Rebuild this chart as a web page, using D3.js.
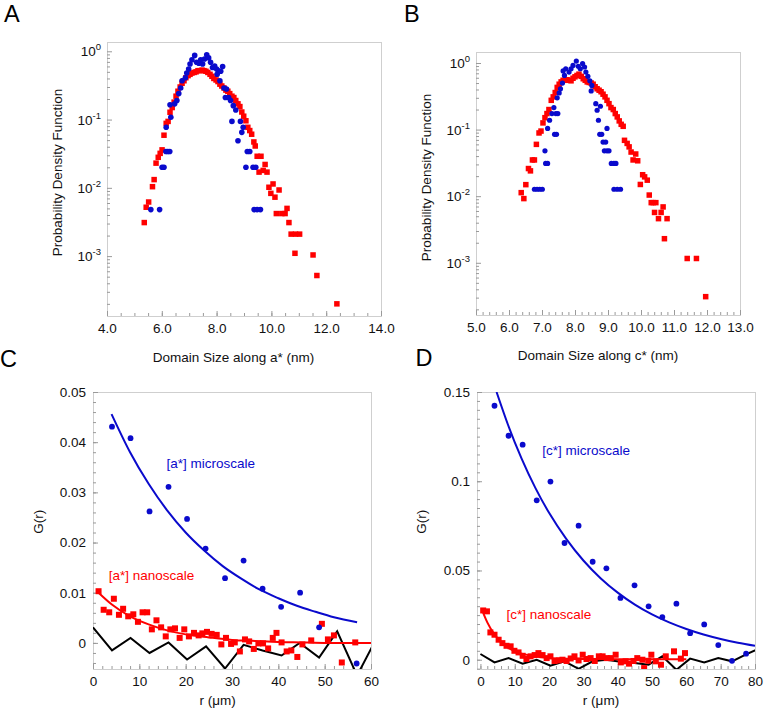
<!DOCTYPE html>
<html><head><meta charset="utf-8">
<script src="https://cdn.jsdelivr.net/npm/d3@7"></script>
<style>body{margin:0;background:#fff}svg{display:block}text{font-family:"Liberation Sans",Arial,sans-serif}</style>
</head><body><svg id="c" width="764" height="711"></svg>
<script>
// ---------- Panel A data (domain size along a*, nm ; PDF) ----------
const aRed = [[5.36,0.0031],[5.43,0.0052],[5.52,0.0062],[5.66,0.0104],[5.72,0.0132],[5.79,0.023],[5.87,0.028],[5.94,0.032],[6.01,0.036],[6.08,0.059],[6.16,0.088],[6.23,0.094],[6.30,0.128],[6.38,0.15],[6.45,0.18],[6.52,0.22],[6.59,0.26],[6.67,0.30],[6.74,0.34],[6.81,0.37],[6.88,0.41],[6.96,0.44],[7.03,0.46],[7.10,0.48],[7.18,0.49],[7.25,0.50],[7.32,0.52],[7.39,0.52],[7.47,0.53],[7.54,0.52],[7.61,0.51],[7.68,0.49],[7.76,0.46],[7.83,0.43],[7.90,0.40],[7.98,0.38],[8.05,0.36],[8.12,0.33],[8.19,0.31],[8.27,0.29],[8.34,0.27],[8.41,0.26],[8.48,0.24],[8.56,0.22],[8.63,0.21],[8.70,0.19],[8.78,0.17],[8.85,0.155],[8.92,0.129],[8.99,0.112],[9.07,0.096],[9.14,0.077],[9.21,0.069],[9.28,0.061],[9.36,0.047],[9.41,0.041],[9.48,0.029],[9.55,0.017],[9.62,0.029],[9.70,0.018],[9.77,0.022],[9.84,0.017],[9.91,0.0102],[9.98,0.0083],[10.06,0.0114],[10.13,0.0073],[10.18,0.0042],[10.28,0.0093],[10.38,0.0042],[10.50,0.0042],[10.57,0.0050],[10.64,0.0031],[10.72,0.0021],[10.86,0.0011],[10.88,0.0021],[11.03,0.0021],[11.52,0.00104],[11.66,0.00052],[12.39,0.0002]];
const aBlue = [[5.60,0.0048],[5.92,0.0048],[6.01,0.020],[6.08,0.020],[6.15,0.034],[6.22,0.034],[6.29,0.034],[6.16,0.077],[6.33,0.108],[6.30,0.165],[6.47,0.17],[6.55,0.19],[6.62,0.24],[6.69,0.29],[6.74,0.37],[6.86,0.41],[6.91,0.48],[6.98,0.55],[7.03,0.65],[7.10,0.75],[7.20,0.87],[7.27,0.69],[7.35,0.67],[7.42,0.75],[7.49,0.65],[7.56,0.77],[7.64,0.89],[7.71,0.80],[7.78,0.69],[7.85,0.58],[7.93,0.61],[8.00,0.55],[8.07,0.52],[8.15,0.51],[8.22,0.60],[8.02,0.46],[8.12,0.37],[8.27,0.29],[8.36,0.28],[8.32,0.21],[8.44,0.21],[8.51,0.19],[8.61,0.16],[8.70,0.138],[8.56,0.094],[8.87,0.094],[8.97,0.077],[8.92,0.065],[8.78,0.049],[9.12,0.034],[9.21,0.034],[9.07,0.020],[9.33,0.020],[9.43,0.020],[9.37,0.0048],[9.48,0.0048],[9.60,0.0048]];
const aXTicks = [4,6,8,10,12,14];
const aYExps = [0,-1,-2,-3];

// ---------- Panel B data (domain size along c*, nm ; PDF) ----------
const bRed = [[6.37,0.0113],[6.45,0.0092],[6.51,0.0149],[6.59,0.026],[6.65,0.024],[6.71,0.035],[6.77,0.035],[6.83,0.060],[6.91,0.089],[6.97,0.095],[7.03,0.126],[7.09,0.151],[7.15,0.174],[7.21,0.20],[7.28,0.275],[7.34,0.31],[7.40,0.36],[7.46,0.43],[7.52,0.48],[7.58,0.52],[7.64,0.55],[7.70,0.55],[7.76,0.56],[7.82,0.55],[7.88,0.54],[7.94,0.59],[8.00,0.62],[8.06,0.65],[8.12,0.68],[8.19,0.63],[8.25,0.58],[8.31,0.55],[8.37,0.52],[8.43,0.51],[8.49,0.50],[8.55,0.48],[8.61,0.44],[8.67,0.41],[8.73,0.39],[8.79,0.37],[8.85,0.34],[8.91,0.31],[8.97,0.275],[9.03,0.245],[9.09,0.214],[9.16,0.20],[9.22,0.174],[9.28,0.155],[9.34,0.135],[9.40,0.12],[9.46,0.112],[9.50,0.069],[9.58,0.062],[9.64,0.055],[9.70,0.046],[9.76,0.035],[9.84,0.043],[9.90,0.034],[9.98,0.015],[10.05,0.021],[10.11,0.0195],[10.19,0.0174],[10.25,0.0104],[10.31,0.008],[10.37,0.008],[10.45,0.008],[10.41,0.0057],[10.53,0.0046],[10.61,0.0057],[10.67,0.0069],[10.71,0.0023],[10.79,0.0046],[11.40,0.00116],[11.68,0.00116],[11.96,0.00031]];
const bBlue = [[6.77,0.0127],[6.85,0.0127],[6.93,0.0127],[7.01,0.0127],[7.09,0.048],[7.11,0.031],[7.17,0.031],[7.17,0.104],[7.23,0.138],[7.30,0.174],[7.36,0.214],[7.38,0.085],[7.44,0.085],[7.42,0.174],[7.48,0.174],[7.46,0.30],[7.52,0.355],[7.56,0.41],[7.62,0.50],[7.68,0.65],[7.64,0.76],[7.72,0.82],[7.82,0.73],[7.88,0.82],[7.94,0.92],[8.04,1.07],[8.10,0.89],[8.16,0.82],[8.23,0.98],[8.29,0.87],[8.33,0.73],[8.39,0.63],[8.45,0.54],[8.51,0.46],[8.49,0.38],[8.63,0.245],[8.67,0.195],[8.71,0.138],[8.77,0.224],[8.75,0.085],[8.81,0.085],[8.85,0.065],[8.93,0.065],[8.97,0.104],[8.89,0.048],[8.97,0.048],[9.03,0.048],[9.10,0.031],[9.18,0.031],[9.24,0.031],[9.18,0.0127],[9.28,0.0127],[9.38,0.0127]];
const bXTicks = [5,6,7,8,9,10,11,12,13];
const bYExps = [0,-1,-2,-3];

// ---------- Panel C data (r in um ; G(r)) ----------
const cMicroR = [4.1,8.1,12.2,16.3,20.3,24.3,28.5,32.5,36.6,40.6,44.7,48.8,56.9];
const cMicroG = [0.0431,0.0408,0.0262,0.0311,0.0247,0.0188,0.0129,0.0164,0.0108,0.0072,0.0100,0.0031,-0.0041];
const cMicroFit = [[4,0.0456],[8,0.0380],[12,0.0317],[16,0.0264],[20,0.0220],[24,0.0184],[28,0.0153],[32,0.0128],[36,0.0106],[40,0.0089],[44,0.0074],[48,0.0062],[52,0.0051],[57,0.0041]];
const cNano = [[1.2,0.0103],[2.3,0.0066],[3.5,0.0061],[4.5,0.0088],[5.6,0.0056],[6.5,0.0068],[7.6,0.0053],[8.7,0.0057],[9.7,0.0042],[10.7,0.0061],[11.7,0.0061],[12.7,0.0027],[13.7,0.0045],[14.7,0.0031],[15.7,0.0013],[16.7,0.0027],[17.7,0.0029],[18.7,0.0010],[19.7,0.0027],[20.7,0.0013],[21.8,0.0020],[22.8,0.0015],[23.6,0.0019],[24.6,0.0022],[25.6,0.0018],[26.7,0.0016],[27.7,-0.0003],[28.7,0.0010],[29.8,-0.0002],[30.6,0.0001],[31.7,-0.0017],[32.8,0.0007],[33.7,0.0003],[34.7,-0.0012],[35.7,-0.0001],[36.7,-0.0001],[37.8,-0.0011],[38.8,0.0010],[39.6,0.0020],[40.7,0.0001],[41.8,-0.0017],[42.8,-0.0015],[44.1,-0.0028],[45.2,-0.0003],[47.1,0.0005],[49.4,0.0038],[50.7,0.0007],[52.0,0.0015],[53.7,-0.0039],[56.6,0.0001]];
const cNanoFit = [[1.2,0.0100],[4,0.0077],[8,0.0053],[12,0.0037],[16,0.0025],[20,0.0017],[25,0.0011],[30,0.0006],[35,0.0004],[40,0.0002],[45,0.0001],[50,0.0000],[55,0.0000],[60,0.0000]];
const cNoise = [[0,0.0031],[4.1,-0.0015],[8.1,0.0010],[12.2,-0.0020],[16.3,0.0001],[20.3,-0.0033],[24.4,-0.0007],[28.5,-0.0051],[32.5,-0.0004],[36.6,-0.0015],[40.7,-0.0025],[44.6,0.0000],[48.8,-0.0029],[52.7,0.0023],[57.0,-0.0065],[60.9,0.0004]];
const cXTicks = [0,10,20,30,40,50,60];
const cYTicks = [0,0.01,0.02,0.03,0.04,0.05];
const cYLabels = ["0","0.01","0.02","0.03","0.04","0.05"];

// ---------- Panel D data (r in um ; G(r)) ----------
const dMicroR = [4.1,8.2,12.3,16.4,20.4,24.5,28.6,32.7,36.7,40.8,44.9,49.0,53.0,57.1,61.1,65.2,69.3,73.3,77.4];
const dMicroG = [0.1423,0.1255,0.1205,0.0893,0.0998,0.0654,0.0751,0.0549,0.0512,0.0346,0.0417,0.0299,0.0239,0.0314,0.0149,0.0198,0.0082,-0.0006,0.0034];
const dMicroFit = [[4.7,0.1500],[8,0.1318],[12,0.1127],[16,0.0963],[20,0.0823],[25,0.0677],[30,0.0556],[35,0.0457],[40,0.0376],[45,0.0309],[50,0.0254],[55,0.0209],[60,0.0172],[65,0.0141],[70,0.0116],[75,0.0095],[80,0.0078]];
const dNano = [[0.8,0.0276],[1.9,0.0271],[2.9,0.0153],[4.1,0.0140],[5.3,0.0112],[6.4,0.0093],[7.6,0.0078],[8.8,0.0075],[9.9,0.0050],[11.1,0.0041],[12.3,0.0022],[13.4,0.0004],[14.6,0.0019],[15.8,0.0026],[16.9,0.0037],[18.1,0.0026],[19.3,0.0009],[20.4,0.0019],[21.6,-0.0007],[22.8,-0.0004],[23.9,0.0000],[25.1,-0.0007],[26.3,0.0007],[27.4,0.0019],[28.6,-0.0004],[29.8,0.0028],[30.9,0.0004],[32.1,0.0009],[33.3,-0.0007],[34.5,0.0019],[35.6,0.0019],[36.8,0.0009],[38.0,0.0009],[39.4,0.0028],[40.9,-0.0015],[42.3,-0.0009],[43.3,-0.0022],[44.6,-0.0007],[45.7,0.0009],[47.2,0.0000],[47.7,-0.0047],[48.9,-0.0006],[49.8,0.0028],[51.1,-0.0009],[52.6,-0.0028],[54.0,0.0019],[56.4,0.0047],[58.4,0.0006],[59.6,0.0037]];
const dNanoFit = [[0.5,0.0276],[2,0.0209],[4,0.0144],[6,0.0100],[8,0.0069],[10,0.0048],[12,0.0034],[15,0.0021],[20,0.0010],[25,0.0006],[30,0.0004],[40,0.0003],[50,0.0003],[60,0.0003]];
const dNoise = [[0,0.0032],[4.1,-0.0015],[8.2,0.0009],[12.3,-0.0022],[16.4,0.0000],[20.4,-0.0034],[24.5,-0.0009],[28.6,-0.0051],[32.7,-0.0009],[36.7,0.0000],[40.8,-0.0012],[44.9,-0.0018],[49.0,-0.0028],[53.0,0.0019],[57.1,-0.0056],[61.1,0.0006],[65.2,-0.0015],[69.3,0.0009],[73.3,-0.0009],[77.4,0.0030],[81.5,0.0065]];
const dXTicks = [0,10,20,30,40,50,60,70,80];
const dYTicks = [0,0.05,0.1,0.15];
const dYLabels = ["0","0.05","0.1","0.15"];

// ---------- drawing ----------
const BLUE = "#0a0acc", RED = "#ff0000";
const FS = 13.5;
const svg = d3.select("#c");

function clean(s) {
  s.attr("font-family", null).attr("font-size", null);
  s.select(".domain").remove();
  s.selectAll(".tick line").attr("stroke", "#9a9a9a");
  s.selectAll(".tick text").attr("font-size", FS).attr("fill", "#111");
}
function frame(g, x, y, id) {
  const [x0, x1] = x.range(), [yb, yt] = y.range();
  g.append("clipPath").attr("id", id).append("rect")
    .attr("x", x0).attr("y", yt).attr("width", x1 - x0).attr("height", yb - yt);
  g.append("rect").attr("x", x0 + 0.5).attr("y", yt + 0.5).attr("width", x1 - x0).attr("height", yb - yt)
    .attr("fill", "none").attr("stroke", "#cfcfcf");
}
function xAxis(g, x, y, ticks, minor, fmt) {
  const yb = y.range()[0];
  g.append("g").attr("transform", `translate(0,${yb})`)
    .call(d3.axisBottom(x).tickValues(minor).tickSize(-3).tickFormat("")).call(clean);
  g.append("g").attr("transform", `translate(0,${yb})`)
    .call(d3.axisBottom(x).tickValues(ticks).tickSize(-5).tickPadding(7.5).tickFormat(fmt)).call(clean);
}
function yAxisLin(g, x, y, ticks, labels, minor) {
  const x0 = x.range()[0];
  g.append("g").attr("transform", `translate(${x0},0)`)
    .call(d3.axisLeft(y).tickValues(minor).tickSize(-3).tickFormat("")).call(clean);
  g.append("g").attr("transform", `translate(${x0},0)`)
    .call(d3.axisLeft(y).tickValues(ticks).tickSize(-5).tickPadding(7).tickFormat((d, i) => labels[i])).call(clean);
}
function yAxisLog(g, x, y, exps) {
  const x0 = x.range()[0];
  const [lo, hi] = y.domain();
  const minor = [];
  for (let e = -5; e <= 1; e++) for (let m = 2; m <= 9; m++) { const v = m * Math.pow(10, e); if (v > lo && v < hi) minor.push(v); }
  g.append("g").attr("transform", `translate(${x0},0)`)
    .call(d3.axisLeft(y).tickValues(minor).tickSize(-3).tickFormat("")).call(clean);
  g.append("g").attr("transform", `translate(${x0},0)`)
    .call(d3.axisLeft(y).tickValues(exps.map(e => Math.pow(10, e))).tickSize(-5).tickFormat("")).call(clean);
  exps.forEach(e => {
    const t = g.append("text").attr("x", x0 - 6).attr("y", y(Math.pow(10, e)) + 5)
      .attr("text-anchor", "end").attr("font-size", FS).attr("fill", "#111");
    t.append("tspan").text("10");
    t.append("tspan").attr("dy", -6).attr("font-size", 9.5).text(String(e));
  });
}
function label(g, txt, x, y, rot, size, color) {
  const t = g.append("text").attr("font-size", size || FS).attr("fill", color || "#111").attr("text-anchor", "middle").text(txt);
  if (rot) t.attr("transform", `translate(${x},${y}) rotate(-90)`).attr("dy", "0.35em");
  else t.attr("x", x).attr("y", y);
  return t;
}
function squares(g, data, x, y, side, id) {
  g.append("g").attr("clip-path", `url(#${id})`).selectAll("rect").data(data).join("rect")
    .attr("x", d => x(d[0]) - side / 2).attr("y", d => y(d[1]) - side / 2)
    .attr("width", side).attr("height", side).attr("fill", RED);
}
function circles(g, data, x, y, r, id) {
  g.append("g").attr("clip-path", `url(#${id})`).selectAll("circle").data(data).join("circle")
    .attr("cx", d => x(d[0])).attr("cy", d => y(d[1])).attr("r", r).attr("fill", BLUE);
}
function path(g, data, x, y, color, w, id, curve) {
  g.append("path").attr("clip-path", `url(#${id})`).datum(data)
    .attr("d", d3.line().x(d => x(d[0])).y(d => y(d[1])).curve(curve || d3.curveLinear))
    .attr("fill", "none").attr("stroke", color).attr("stroke-width", w).attr("stroke-linejoin", "miter");
}
const range = (a, b, s) => d3.range(Math.round((b - a) / s) + 1).map(i => +(a + i * s).toFixed(6));

// ----- Panel A -----
{
  const g = svg.append("g");
  const x = d3.scaleLinear([4, 14], [107, 381]);
  const y = d3.scaleLog([Math.pow(10, -3.877), Math.pow(10, 0.136)], [316, 42]);
  frame(g, x, y, "clipA");
  xAxis(g, x, y, aXTicks, range(4, 14, 0.5), d3.format(".1f"));
  yAxisLog(g, x, y, aYExps);
  squares(g, aRed, x, y, 5.5, "clipA");
  circles(g, aBlue, x, y, 2.8, "clipA");
  label(g, "Domain Size along a* (nm)", 233.5, 361.5);
  label(g, "Probability Density Function", 57, 172.5, true);
  g.append("text").attr("x", 4).attr("y", 22).attr("font-size", 23.5).text("A");
}
// ----- Panel B -----
{
  const g = svg.append("g");
  const x = d3.scaleLinear([5, 13], [476, 740]);
  const y = d3.scaleLog([Math.pow(10, -3.784), Math.pow(10, 0.165)], [315, 52]);
  frame(g, x, y, "clipB");
  xAxis(g, x, y, bXTicks, range(5, 13, 0.2), d3.format(".1f"));
  yAxisLog(g, x, y, bYExps);
  squares(g, bRed, x, y, 5.5, "clipB");
  circles(g, bBlue, x, y, 2.6, "clipB");
  label(g, "Domain Size along c* (nm)", 598, 360);
  label(g, "Probability Density Function", 426.5, 177.5, true);
  g.append("text").attr("x", 404).attr("y", 22).attr("font-size", 23.5).text("B");
}
// ----- Panel C -----
{
  const g = svg.append("g");
  const x = d3.scaleLinear([0, 60], [93, 371]);
  const y = d3.scaleLinear([-0.0052, 0.05], [669, 392]);
  frame(g, x, y, "clipC");
  xAxis(g, x, y, cXTicks, range(0, 60, 2), d3.format("d"));
  yAxisLin(g, x, y, cYTicks, cYLabels, range(-0.004, 0.05, 0.002));
  path(g, cNoise, x, y, "#000", 2, "clipC");
  path(g, cNanoFit, x, y, RED, 2, "clipC", d3.curveMonotoneX);
  squares(g, cNano, x, y, 6, "clipC");
  path(g, cMicroFit, x, y, BLUE, 2, "clipC", d3.curveMonotoneX);
  circles(g, cMicroR.map((r, i) => [r, cMicroG[i]]), x, y, 2.9, "clipC");
  g.append("text").attr("x", x(15.85)).attr("y", y(0.0357)).attr("dy", "0.35em").attr("font-size", FS).attr("fill", BLUE).text("[a*] microscale");
  g.append("text").attr("x", x(3.4)).attr("y", y(0.0134)).attr("dy", "0.35em").attr("font-size", FS).attr("fill", RED).text("[a*] nanoscale");
  label(g, "r (\u03bcm)", 217.7, 704.7);
  label(g, "G(r)", 38.3, 521.7, true);
  g.append("text").attr("x", 0).attr("y", 366.7).attr("font-size", 23.5).text("C");
}
// ----- Panel D -----
{
  const g = svg.append("g");
  const x = d3.scaleLinear([-1, 80], [477, 755]);
  const y = d3.scaleLinear([-0.0052, 0.15], [669, 392]);
  frame(g, x, y, "clipD");
  xAxis(g, x, y, dXTicks, range(0, 80, 2), d3.format("d"));
  yAxisLin(g, x, y, dYTicks, dYLabels, range(-0.005, 0.15, 0.005));
  path(g, dNoise, x, y, "#000", 2, "clipD");
  path(g, dNanoFit, x, y, RED, 2, "clipD", d3.curveMonotoneX);
  squares(g, dNano, x, y, 6, "clipD");
  path(g, dMicroFit, x, y, BLUE, 2, "clipD", d3.curveMonotoneX);
  circles(g, dMicroR.map((r, i) => [r, dMicroG[i]]), x, y, 2.9, "clipD");
  g.append("text").attr("x", x(18.0)).attr("y", y(0.1173)).attr("dy", "0.35em").attr("font-size", FS).attr("fill", BLUE).text("[c*] microscale");
  g.append("text").attr("x", x(7.6)).attr("y", y(0.0252)).attr("dy", "0.35em").attr("font-size", FS).attr("fill", RED).text("[c*] nanoscale");
  label(g, "r (\u03bcm)", 601, 704.7);
  label(g, "G(r)", 421.7, 521.7, true);
  g.append("text").attr("x", 415.5).attr("y", 366).attr("font-size", 23.5).text("D");
}
</script>
</body></html>
